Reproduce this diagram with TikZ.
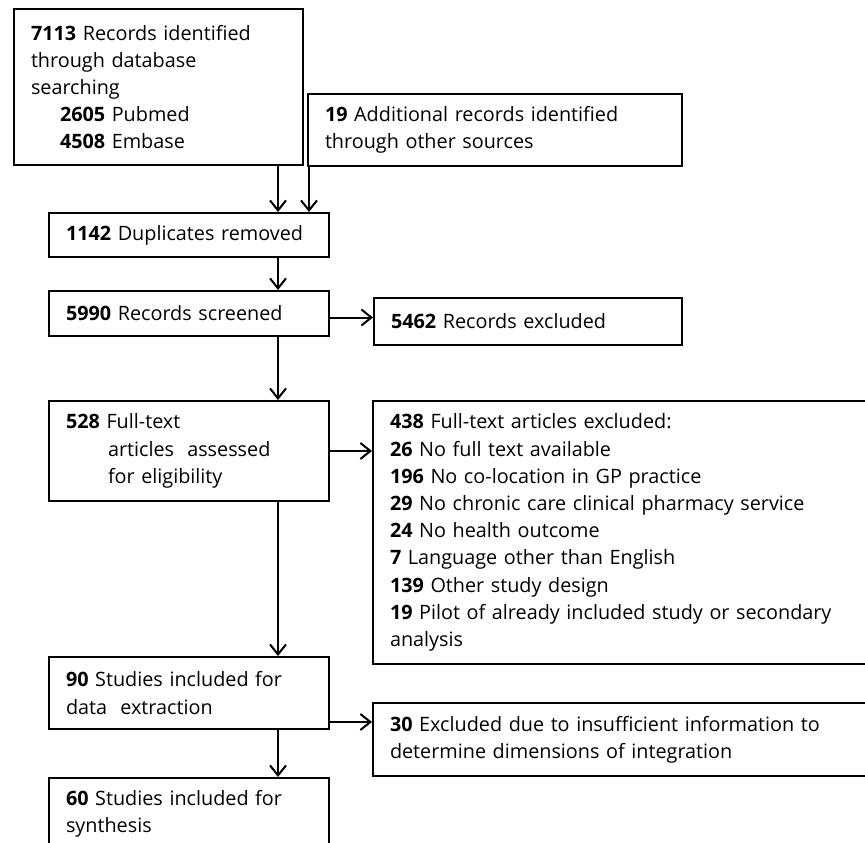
\documentclass[tikz,border=0pt]{standalone}
\usepackage{fontspec}
\setmainfont{Open Sans}
\usetikzlibrary{arrows.meta, positioning}

\tikzset{
    stagebox/.style={draw, line width=2pt, anchor=north west, align=left,
        inner xsep=17pt, inner ysep=0pt,
        font=\fontsize{19.8}{27.2}\selectfont},
    flow/.style={line width=2pt, -{Straight Barb[length=10pt,width=16pt,line width=2pt]}}
}

\begin{document}
\begin{tikzpicture}[x=1pt, y=-1pt]
    \useasboundingbox (0,0) rectangle (865,843);
    \clip (0,0) rectangle (865,843);

    % Identification
    \node[stagebox, text width=255pt, minimum height=156pt] (rec) at (13,8)
        {\textbf{7113} Records identified\\ through database\\ searching\\
         \hspace*{29pt}\textbf{2605} Pubmed\\ \hspace*{29pt}\textbf{4508} Embase};
    \node[stagebox, text width=340pt, minimum height=72pt] (add) at (307,93)
        {\textbf{19} Additional records identified\\ through other sources};

    % Screening
    \node[stagebox, text width=246pt, minimum height=44pt] (dup) at (48,212)
        {\textbf{1142} Duplicates removed};
    \node[stagebox, text width=246pt, minimum height=45pt] (scr) at (48,290)
        {\textbf{5990} Records screened};
    \node[stagebox, text width=274pt, minimum height=47pt] (excl) at (373,297)
        {\textbf{5462} Records excluded};

    % Eligibility
    \node[stagebox, text width=246pt, minimum height=100pt] (full) at (48,400)
        {\textbf{528} Full-text\\ \hspace*{42pt}articles~ assessed\\ \hspace*{42pt}for eligibility};
    \node[stagebox, text width=476pt, minimum height=263pt] (fullexcl) at (372,400)
        {\textbf{438} Full-text articles excluded:\\
         \textbf{26} No full text available\\
         \textbf{196} No co-location in GP practice\\
         \textbf{29} No chronic care clinical pharmacy service\\
         \textbf{24} No health outcome\\
         \textbf{7} Language other than English\\
         \textbf{139} Other study design\\
         \textbf{19} Pilot of already included study or secondary\\ analysis};

    % Included
    \node[stagebox, text width=246pt, minimum height=72pt] (inc) at (48,656)
        {\textbf{90} Studies included for\\ data~ extraction};
    \node[stagebox, text width=476pt, minimum height=73pt] (incexcl) at (372,702)
        {\textbf{30} Excluded due to insufficient information to\\ determine dimensions of integration};
    \node[stagebox, text width=246pt, minimum height=72pt] (syn) at (48,777)
        {\textbf{60} Studies included for\\ synthesis};

    % Connectors
    \coordinate (spine) at (278,0);
    \draw[flow] (spine |- rec.south) -- (spine |- dup.north);
    \draw[flow] ([xshift=2pt]add.south west) -- ([xshift=2pt]add.south west |- dup.north);
    \draw[flow] (spine |- dup.south) -- (spine |- scr.north);
    \draw[flow] (spine |- scr.south) -- (spine |- full.north);
    \draw[flow] (spine |- full.south) -- (spine |- inc.north);
    \draw[flow] (spine |- inc.south) -- (spine |- syn.north);
    \draw[flow] ([yshift=-4pt]scr.east) -- ([yshift=-4pt]scr.east -| excl.west);
    \draw[flow] (full.east) -- (full.east -| fullexcl.west);
    \draw[flow] ([yshift=8pt]inc.south east) -- ([yshift=8pt]inc.south east -| incexcl.west);
\end{tikzpicture}
\end{document}
